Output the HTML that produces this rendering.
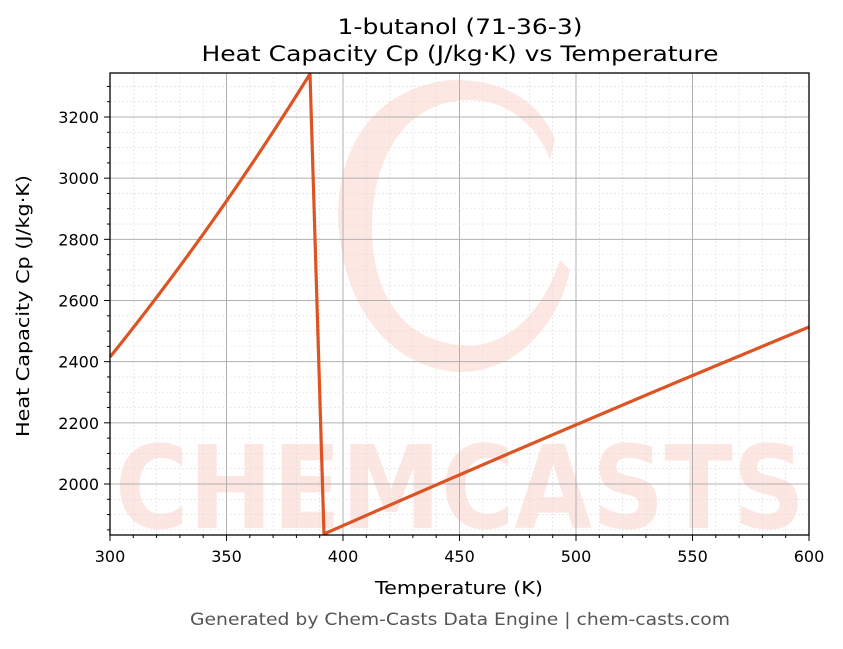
<!DOCTYPE html>
<html><head><meta charset="utf-8"><style>
body{margin:0;background:#fff;}
svg text{font-family:"DejaVu Sans","Liberation Sans",sans-serif;}
</style></head><body>
<svg id="s" width="843" height="644" xmlns="http://www.w3.org/2000/svg">
<rect width="843" height="644" fill="#fff"/>
<g id="wm" opacity="0.16" fill="#f26a4f">
<text x="460" y="528" font-size="115" font-weight="bold" text-anchor="middle" textLength="690" lengthAdjust="spacingAndGlyphs">CHEMCASTS</text>
<path d="M450 80 C360 90 330 170 340 240 C350 320 400 370 460 372 C520 372 560 320 570 270 L560 260 C540 320 500 350 460 345 C400 340 370 290 372 220 C375 150 410 100 470 100 C510 100 540 130 550 160 L555 140 C540 100 500 78 450 80Z"/>
</g>
<g id="grid"></g>
<text x="460" y="34" font-size="21" text-anchor="middle" textLength="245" lengthAdjust="spacingAndGlyphs">1-butanol (71-36-3)</text>
<text x="460" y="61" font-size="21" text-anchor="middle" textLength="517" lengthAdjust="spacingAndGlyphs">Heat Capacity Cp (J/kg·K) vs Temperature</text>
<text x="459" y="594" font-size="17.5" text-anchor="middle" textLength="168" lengthAdjust="spacingAndGlyphs">Temperature (K)</text>
<text transform="translate(29,306) rotate(-90)" font-size="17.5" text-anchor="middle" textLength="262" lengthAdjust="spacingAndGlyphs">Heat Capacity Cp (J/kg·K)</text>
<text x="460" y="625" font-size="16.5" fill="#555" text-anchor="middle" textLength="540" lengthAdjust="spacingAndGlyphs">Generated by Chem-Casts Data Engine | chem-casts.com</text>
<g fill="none" stroke="#dd5424" stroke-width="3.2" stroke-linejoin="round">
<path d="M110 357 Q214 228 310 74 L324 534 Q560 430 809 327"/>
</g>
<rect x="110" y="73" width="699" height="462" fill="none" stroke="#000" stroke-width="1.3"/>
</svg>
<script>
var g=document.getElementById('grid'),s='';
function X(t){return 110+(t-300)*699/300;}
function Y(v){return 484-(v-2000)*0.30583;}
for(var t=300;t<=600;t+=10){var x=X(t),maj=t%50==0;
 s+='<line x1="'+x+'" y1="73" x2="'+x+'" y2="535" stroke="'+(maj?'#b0b0b0':'#ddd')+'" stroke-width="'+(maj?1:0.6)+'"'+(maj?'':' stroke-dasharray="2,2"')+'/>';
 s+='<line x1="'+x+'" y1="535" x2="'+x+'" y2="'+(maj?541:538)+'" stroke="#000" stroke-width="1"/>';
 if(maj)s+='<text x="'+x+'" y="562" font-size="16" text-anchor="middle">'+t+'</text>';}
for(var v=1850;v<=3300;v+=50){var y=Y(v),maj=v%200==0;
 s+='<line x1="110" y1="'+y+'" x2="809" y2="'+y+'" stroke="'+(maj?'#b0b0b0':'#ddd')+'" stroke-width="'+(maj?1:0.6)+'"'+(maj?'':' stroke-dasharray="2,2"')+'/>';
 s+='<line x1="'+(maj?104:107)+'" y1="'+y+'" x2="110" y2="'+y+'" stroke="#000" stroke-width="1"/>';
 if(maj)s+='<text x="99" y="'+(y+6)+'" font-size="16" text-anchor="end">'+v+'</text>';}
g.innerHTML=s;
</script>
</body></html>
